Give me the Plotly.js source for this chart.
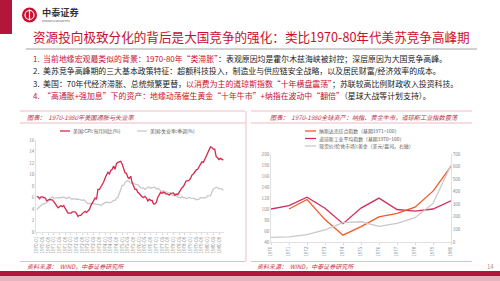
<!DOCTYPE html>
<html>
<head>
<meta charset="utf-8">
<script src="https://cdn.plot.ly/plotly-3.0.1.min.js"></script>
<style>
  html, body { margin: 0; padding: 0; background: #fff; }
  #slide { width: 500px; height: 281px; }
</style>
</head>
<body>
<div id="slide"></div>
<script>
// ---- Left chart: US CPI YoY and unemployment rate, monthly 1970-1980 ----
const years = [1970, 1971, 1972, 1973, 1974, 1975, 1976, 1977, 1978, 1979, 1980];
const monthLabels = [];
years.forEach(function (y) {
  ['01','02','03','04','05','06','07','08','09','10','11','12'].forEach(function (m) {
    monthLabels.push(y + '-' + m);
  });
});

const cpiYoY = [
  6.2, 6.1, 5.8, 6.1, 6.1, 6.0, 5.9, 5.4, 5.6, 5.7, 5.6, 5.6,
  5.3, 5.0, 4.7, 4.2, 4.4, 4.6, 4.4, 4.6, 4.1, 3.8, 3.3, 3.3,
  3.3, 3.5, 3.5, 3.5, 3.2, 2.7, 2.9, 2.9, 3.2, 3.4, 3.6, 3.4,
  3.7, 3.9, 4.6, 5.1, 5.5, 5.9, 5.7, 7.4, 7.4, 7.8, 8.3, 8.7,
  9.4, 10.0, 10.4, 10.1, 10.7, 10.9, 11.5, 10.9, 11.9, 12.1, 12.2, 12.3,
  11.8, 11.2, 10.3, 10.2, 9.5, 9.3, 9.7, 8.6, 7.9, 7.4, 7.4, 6.9,
  6.7, 6.3, 6.1, 6.0, 6.2, 5.9, 5.4, 5.7, 5.5, 5.5, 4.9, 4.9,
  5.2, 6.0, 6.4, 6.9, 6.7, 6.9, 6.8, 6.6, 6.6, 6.4, 6.7, 6.7,
  6.8, 6.4, 6.6, 6.5, 6.9, 7.4, 7.7, 7.9, 8.3, 8.9, 8.9, 9.0,
  9.3, 9.9, 10.1, 10.5, 10.8, 10.9, 11.3, 11.8, 12.2, 12.1, 12.6, 13.3,
  13.9, 14.2, 14.8, 14.7, 14.4, 14.4, 13.1, 12.9, 12.6, 12.8, 12.6, 12.5
];

const unemployment = [
  3.9, 4.2, 4.4, 4.6, 4.8, 4.9, 5.0, 5.1, 5.4, 5.5, 5.9, 6.1,
  5.9, 5.9, 6.0, 5.9, 5.9, 5.9, 6.0, 6.1, 6.0, 5.8, 6.0, 6.0,
  5.8, 5.7, 5.8, 5.7, 5.7, 5.7, 5.6, 5.6, 5.5, 5.6, 5.3, 5.2,
  4.9, 5.0, 4.9, 5.0, 4.9, 4.9, 4.8, 4.8, 4.8, 4.6, 4.8, 4.9,
  5.1, 5.2, 5.1, 5.1, 5.1, 5.4, 5.5, 5.5, 5.9, 6.0, 6.6, 7.2,
  8.1, 8.1, 8.6, 8.8, 9.0, 8.8, 8.6, 8.4, 8.4, 8.4, 8.3, 8.2,
  7.9, 7.7, 7.6, 7.7, 7.4, 7.6, 7.8, 7.8, 7.6, 7.7, 7.8, 7.8,
  7.5, 7.6, 7.4, 7.2, 7.0, 7.2, 6.9, 7.0, 6.8, 6.8, 6.8, 6.4,
  6.4, 6.3, 6.3, 6.1, 6.0, 5.9, 6.2, 5.9, 6.0, 5.8, 5.9, 6.0,
  5.9, 5.9, 5.8, 5.8, 5.6, 5.7, 5.7, 6.0, 5.9, 6.0, 5.9, 6.0,
  6.3, 6.3, 6.3, 6.9, 7.5, 7.6, 7.8, 7.7, 7.5, 7.5, 7.5, 7.2
];

// tick labels every four months
const monthTicks = monthLabels.filter(function (_, i) { return i % 4 === 0; });

// ---- Right chart: annual global assets 1970-1980 ----
const nasdaqYears = [1971, 1972, 1973, 1974, 1975, 1976, 1977, 1978, 1979, 1980];
const nasdaqIndex = [100, 117.2, 80.8, 52.4, 68.0, 85.8, 92.1, 103.4, 132.4, 177.3];
const djiaIndex = [100, 106.1, 121.6, 101.5, 73.4, 101.6, 119.8, 99.1, 96.0, 100.0, 114.9];
const goldPrice = [36.0, 40.8, 58.2, 97.3, 154.0, 160.9, 124.8, 147.7, 193.2, 306.7, 612.6];

const seriesNames = {
  cpi: '美国:CPI:当月同比(%)',
  unemp: '美国:失业率:季调(%)',
  nasdaq: '纳斯达克综合指数（基期1971=100）',
  djia: '道琼斯工业平均指数（基期1970=100）',
  gold: '现货价(伦敦市场):黄金（美元/盎司，右轴）'
};

const RED = '#C8102E';
const CPI_RED = '#D6284C';
const GRAY_LINE = '#C9C9C9';
const NASDAQ_ORANGE = '#F05A28';
const DJIA_RED = '#D42D5B';
const PINK = '#E9A9B5';
const FONT = 'Noto Sans CJK SC, Noto Sans, sans-serif';

// pixel helpers on a 500x281 canvas
function px(x) { return x / 500; }
function py(y) { return 1 - y / 281; }

const traces = [
  { x: monthLabels, y: unemployment, name: seriesNames.unemp, type: 'scatter', mode: 'lines',
    line: { color: GRAY_LINE, width: 1.3 }, xaxis: 'x', yaxis: 'y' },
  { x: monthLabels, y: cpiYoY, name: seriesNames.cpi, type: 'scatter', mode: 'lines',
    line: { color: CPI_RED, width: 1.3 }, xaxis: 'x', yaxis: 'y' },
  { x: years, y: goldPrice, name: seriesNames.gold, type: 'scatter', mode: 'lines',
    line: { color: GRAY_LINE, width: 1.3 }, xaxis: 'x2', yaxis: 'y3' },
  { x: years, y: djiaIndex, name: seriesNames.djia, type: 'scatter', mode: 'lines',
    line: { color: DJIA_RED, width: 1.3 }, xaxis: 'x2', yaxis: 'y2' },
  { x: nasdaqYears, y: nasdaqIndex, name: seriesNames.nasdaq, type: 'scatter', mode: 'lines',
    line: { color: NASDAQ_ORANGE, width: 1.3 }, xaxis: 'x2', yaxis: 'y2' }
];

const tickFont = { family: FONT, size: 4.6, color: '#8C8C8C' };
const axisCommon = {
  showgrid: false, zeroline: false, showline: true, linecolor: '#D9D9D9', linewidth: 0.8,
  ticks: 'outside', ticklen: 2, tickcolor: '#D9D9D9', tickfont: tickFont, fixedrange: true
};

const shapes = [];
const annotations = [];

function rect(x0, y0, x1, y1, color) {
  shapes.push({ type: 'rect', xref: 'paper', yref: 'paper', x0: px(x0), x1: px(x1),
    y0: py(y1), y1: py(y0), fillcolor: color, line: { width: 0 }, layer: 'below' });
}
function hline(x0, x1, y, color, w) {
  shapes.push({ type: 'line', xref: 'paper', yref: 'paper', x0: px(x0), x1: px(x1),
    y0: py(y), y1: py(y), line: { color: color, width: w } });
}
function vline(x, y0, y1, color, w) {
  shapes.push({ type: 'line', xref: 'paper', yref: 'paper', x0: px(x), x1: px(x),
    y0: py(y0), y1: py(y1), line: { color: color, width: w } });
}
function text(x, y, t, size, color, anchor, extra) {
  annotations.push(Object.assign({ xref: 'paper', yref: 'paper', x: px(x), y: py(y), text: t,
    showarrow: false, xanchor: anchor || 'left', yanchor: 'middle',
    font: { family: FONT, size: size, color: color } }, extra || {}));
}

// page frame
rect(0, 0, 12, 34, '#B3163A');
rect(0, 271, 500, 276, '#B3163A');
rect(0, 276, 500, 281, '#E7B3BE');

// logo
shapes.push({ type: 'circle', xref: 'paper', yref: 'paper', x0: px(22), x1: px(37),
  y0: py(22.5), y1: py(7.5), fillcolor: RED, line: { width: 0 } });
shapes.push({ type: 'circle', xref: 'paper', yref: 'paper', x0: px(25), x1: px(34),
  y0: py(19.5), y1: py(10.5), fillcolor: 'rgba(0,0,0,0)', line: { color: '#fff', width: 1.2 } });
vline(29.5, 9.5, 20.5, '#fff', 1.2);
text(40, 11.5, '<b>中泰证券</b>', 9.2, '#333333');
text(40, 20.6, 'ZHONGTAI SECURITIES', 2.6, '#555555', 'left', { height: 3 });

// title and rule
text(251, 36.5, '资源投向极致分化的背后是大国竞争的强化：类比1970-80年代美苏竞争高峰期', 12.6, RED, 'center');
hline(26, 477, 49, '#8C8C8C', 0.8);

// bullet points
const B = '#222222';
function span(c, t) { return '<span style="color:' + c + '">' + t + '</span>'; }
const bullets = [
  span(RED, '1.  当前地缘宏观最类似的背景：1970-80年“类滞胀”') + span(B, '：表观原因均是霍尔木兹海峡被封控；深层原因为大国竞争高峰。'),
  span(B, '2.  美苏竞争高峰期的三大基本政策特征：超额科技投入，制造业与供应链安全战略，以及居民财富/经济效率的成本。'),
  span(B, '3.  美国：70年代经济滞胀、总统频繁更替，') + span(RED, '以消费为主的道琼斯指数“十年横盘震荡”') + span(B, '；苏联较高比例财政收入投资科技。'),
  span(RED, '4.  “高通胀+强加息”下的资产：地缘动荡催生黄金“十年牛市”+纳指在波动中“翻倍”') + span(B, '（星球大战等计划支持）。')
];
[58, 70.5, 83, 95.5].forEach(function (y, i) { text(31, y, bullets[i], 7.9, B); });

// chart panels
hline(20, 245, 111, PINK, 0.8);
hline(20, 245, 123, PINK, 0.8);
hline(20, 245, 261.5, PINK, 0.8);
vline(246, 111, 261.5, PINK, 0.8);
hline(251, 472, 111, PINK, 0.8);
hline(251, 472, 123, PINK, 0.8);
hline(251, 472, 261.5, PINK, 0.8);

text(25, 117, '<i>图表：  1970-1980年美国通胀与失业率</i>', 6.2, '#C2334D');
text(268, 117, '<i>图表：  1970-1980全球资产：纳指、黄金牛市，道琼斯工业指数震荡</i>', 6.2, '#C2334D');
text(25, 266.5, '<i>资料来源：  WIND，中泰证券研究所</i>', 6, '#C2334D');
text(255, 266.5, '<i>资料来源：  WIND，中泰证券研究所</i>', 6, '#C2334D');
text(485, 266.5, '14', 6, '#9A9A9A');

// left legend
hline(60, 70, 131, CPI_RED, 1.3);
text(71, 131, seriesNames.cpi, 4.9, '#595959');
hline(137, 147, 131, GRAY_LINE, 1.3);
text(148, 131, seriesNames.unemp, 4.9, '#595959');

// right legend
hline(305, 316, 131, NASDAQ_ORANGE, 1.3);
text(317, 131, seriesNames.nasdaq, 4.9, '#595959');
hline(305, 316, 138.5, DJIA_RED, 1.3);
text(317, 138.5, seriesNames.djia, 4.9, '#595959');
hline(305, 316, 146, GRAY_LINE, 1.3);
text(317, 146, seriesNames.gold, 4.9, '#595959');

const layout = {
  width: 500, height: 281,
  margin: { l: 0, r: 0, t: 0, b: 0 },
  paper_bgcolor: '#ffffff', plot_bgcolor: 'rgba(0,0,0,0)',
  showlegend: false,
  font: { family: FONT },
  xaxis: Object.assign({}, axisCommon, {
    domain: [px(36), px(224)], type: 'category', range: [-0.5, monthLabels.length - 0.5],
    tickmode: 'array', tickvals: monthTicks, ticktext: monthTicks, tickangle: -90, anchor: 'y'
  }),
  yaxis: Object.assign({}, axisCommon, {
    domain: [py(232), py(140)], range: [0, 16], dtick: 2, anchor: 'x', ticks: '', ticklen: 0
  }),
  xaxis2: Object.assign({}, axisCommon, {
    domain: [px(271), px(451)], range: [1970, 1980], tickmode: 'array',
    tickvals: years, ticktext: years.map(String), tickangle: -90, anchor: 'y2'
  }),
  yaxis2: Object.assign({}, axisCommon, {
    domain: [py(242), py(154)], range: [40, 200], dtick: 20, anchor: 'x2', ticks: '', ticklen: 0
  }),
  yaxis3: Object.assign({}, axisCommon, {
    range: [0, 700], dtick: 100, overlaying: 'y2', side: 'right', anchor: 'x2', ticks: '', ticklen: 0
  }),
  shapes: shapes,
  annotations: annotations
};

Plotly.newPlot('slide', traces, layout, { staticPlot: true, displayModeBar: false });
</script>
</body>
</html>
